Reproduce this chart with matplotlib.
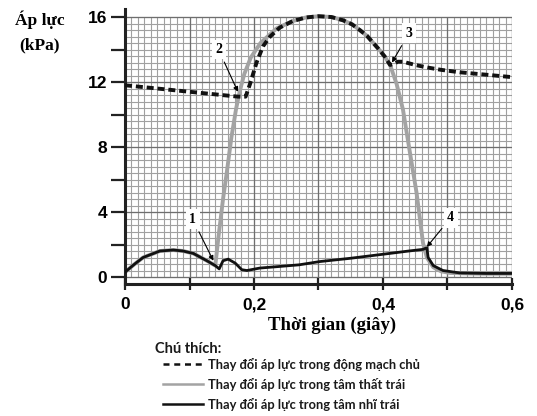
import matplotlib
matplotlib.use("Agg")
import matplotlib.pyplot as plt
import numpy as np

# ---- data ----
t_aorta = [0.0, 0.05, 0.1, 0.15, 0.175, 0.187, 0.194, 0.204, 0.214, 0.225, 0.24, 0.26, 0.28, 0.3,
           0.32, 0.338, 0.352, 0.364, 0.375, 0.385, 0.395, 0.403, 0.411, 0.416, 0.423, 0.431,
           0.45, 0.468, 0.49, 0.519, 0.56, 0.6]
p_aorta = [11.8, 11.6, 11.4, 11.2, 11.1, 11.1, 11.9, 13.2, 14.2, 14.8, 15.35, 15.75, 15.97, 16.05,
           16.0, 15.8, 15.55, 15.2, 14.85, 14.4, 13.95, 13.55, 13.05, 13.1, 13.25, 13.25,
           13.05, 12.9, 12.75, 12.6, 12.45, 12.3]

t_ventricle = [0.0, 0.015, 0.028, 0.054, 0.075, 0.09, 0.106, 0.127, 0.14, 0.145, 0.152, 0.158, 0.165,
               0.172, 0.178, 0.185, 0.195, 0.21, 0.235, 0.26, 0.28, 0.3, 0.32, 0.338, 0.352, 0.364,
               0.375, 0.385, 0.395, 0.403, 0.411, 0.421, 0.431, 0.442, 0.452, 0.462, 0.468,
               0.478, 0.49, 0.504, 0.53, 0.56, 0.6]
p_ventricle = [0.3, 0.8, 1.2, 1.6, 1.66, 1.6, 1.45, 1.0, 0.7, 2.5, 4.8, 6.5, 8.6,
               10.3, 11.45, 12.5, 13.5, 14.4, 15.3, 15.75, 15.97, 16.05, 16.0, 15.8, 15.55, 15.2,
               14.85, 14.4, 13.95, 13.55, 13.05, 11.9, 10.3, 7.6, 5.2, 2.1, 1.2,
               0.6, 0.35, 0.25, 0.22, 0.2, 0.2]

t_atrium = [0.0, 0.015, 0.028, 0.054, 0.075, 0.09, 0.106, 0.127, 0.14, 0.146, 0.152, 0.16, 0.171,
            0.181, 0.189, 0.209, 0.24, 0.27, 0.302, 0.349, 0.4, 0.44, 0.462, 0.468, 0.47,
            0.478, 0.493, 0.519, 0.56, 0.6]
p_atrium = [0.3, 0.8, 1.2, 1.6, 1.66, 1.6, 1.45, 1.0, 0.7, 0.5, 1.0, 1.1, 0.85,
            0.45, 0.4, 0.55, 0.65, 0.75, 0.95, 1.15, 1.4, 1.6, 1.7, 1.8, 1.2,
            0.7, 0.4, 0.25, 0.22, 0.22]

# annotation labels: (label, point on curve, text position)
ann_labels = ["1", "2", "3", "4"]
ann_points = [(0.137, 1.0), (0.175, 11.4), (0.414, 13.2), (0.468, 1.85)]
ann_text = [(0.105, 3.55), (0.145, 14.0), (0.44, 15.0), (0.505, 3.65)]

xticks = [0.0, 0.1, 0.2, 0.3, 0.4, 0.5, 0.6]
xticklabels = ["0", "", "0,2", "", "0,4", "", "0,6"]
yticks = [0, 2, 4, 6, 8, 10, 12, 14, 16]
yticklabels = ["0", "", "4", "", "8", "", "12", "", "16"]

legend_title = "Chú thích:"
legend_labels = ["Thay đổi áp lực trong động mạch chủ",
                 "Thay đổi áp lực trong tâm thất trái",
                 "Thay đổi áp lực trong tâm nhĩ trái"]

# ---- figure ----
fig = plt.figure(figsize=(5.37, 4.16), dpi=100)
ax = fig.add_axes([0.2328, 0.3185, 0.9534 - 0.2328, 0.9786 - 0.3185])
ax.set_xlim(0, 0.6)
ax.set_ylim(-0.4, 16.5)

# grid limited to data area
xs_minor = np.arange(0, 0.6001, 0.01)
ys_minor = np.arange(0, 16.001, 0.4)
ax.vlines(xs_minor, 0, 16, colors="#a0a0a0", lw=0.8, zorder=0)
ax.hlines(ys_minor, 0, 0.6, colors="#a0a0a0", lw=0.8, zorder=0)
ax.vlines(np.arange(0, 0.6001, 0.1), 0, 16, colors="#6e6e6e", lw=0.9, zorder=0)
ax.hlines(np.arange(0, 16.001, 4), 0, 0.6, colors="#6e6e6e", lw=0.9, zorder=0)

ax.plot(t_ventricle, p_ventricle, color="#a3a3a3", lw=2.8, solid_capstyle="round", zorder=2)
ax.plot(t_atrium, p_atrium, color="#111111", lw=2.0, zorder=3)
ax.plot(t_aorta, p_aorta, color="#111111", lw=2.8, linestyle=(0, (1.8, 1.0)), zorder=4)

for lab, pt, tp in zip(ann_labels, ann_points, ann_text):
    ax.annotate(lab, xy=pt, xytext=tp, fontsize=10, fontweight="bold", family="Liberation Serif",
                ha="center", va="center", zorder=6,
                bbox=dict(boxstyle="square,pad=0.25", fc="white", ec="none"),
                arrowprops=dict(arrowstyle="-|>", color="black", lw=0.8, mutation_scale=7,
                                shrinkA=2, shrinkB=0))

for s in ["top", "right"]:
    ax.spines[s].set_visible(False)
ax.spines["left"].set_linewidth(2.2)
ax.spines["bottom"].set_linewidth(2.2)
ax.spines["left"].set_color("#222222")
ax.spines["bottom"].set_color("#222222")

ax.set_xticks(xticks)
ax.set_xticklabels(xticklabels)
ax.set_yticks(yticks)
ax.set_yticklabels(yticklabels)
ax.tick_params(axis="y", direction="out", length=10, width=1.6, color="#222222", pad=3)
ax.tick_params(axis="x", direction="inout", length=8, width=1.6, color="#222222", pad=6)
for lbl in ax.get_xticklabels() + ax.get_yticklabels():
    lbl.set_fontsize(12.5)
    lbl.set_fontweight("bold")
    lbl.set_family("Liberation Sans")

fig.text(40 / 537, 1 - 20 / 416, "Áp lực", fontsize=12.5, fontweight="bold",
         family="Liberation Serif", ha="center", va="center")
fig.text(40 / 537, 1 - 45 / 416, "(kPa)", fontsize=12.5, fontweight="bold",
         family="Liberation Serif", ha="center", va="center")
fig.text(332 / 537, 1 - 325 / 416, "Thời gian (giây)", fontsize=13.5, fontweight="bold",
         family="Liberation Serif", ha="center", va="center")

# legend (manual)
fig.text(155 / 537, 1 - 349 / 416, legend_title, fontsize=10.5, fontweight="bold", family="Lato",
         color="#1a1a1a", ha="left", va="center")
styles = [dict(color="#111111", lw=1.8, linestyle=(0, (2.4, 1.9))),
          dict(color="#a3a3a3", lw=1.8, linestyle="-"),
          dict(color="#111111", lw=1.8, linestyle="-")]
ys_leg = [364, 384, 404]
for lab, st, yp in zip(legend_labels, styles, ys_leg):
    yf = 1 - yp / 416
    fig.add_artist(plt.Line2D([163 / 537, 203 / 537], [yf, yf], transform=fig.transFigure, **st))
    fig.text(208 / 537, yf, lab, fontsize=9.25, fontweight="bold", family="Lato",
             color="#1a1a1a", ha="left", va="center")

fig.savefig("out.png", dpi=100)
